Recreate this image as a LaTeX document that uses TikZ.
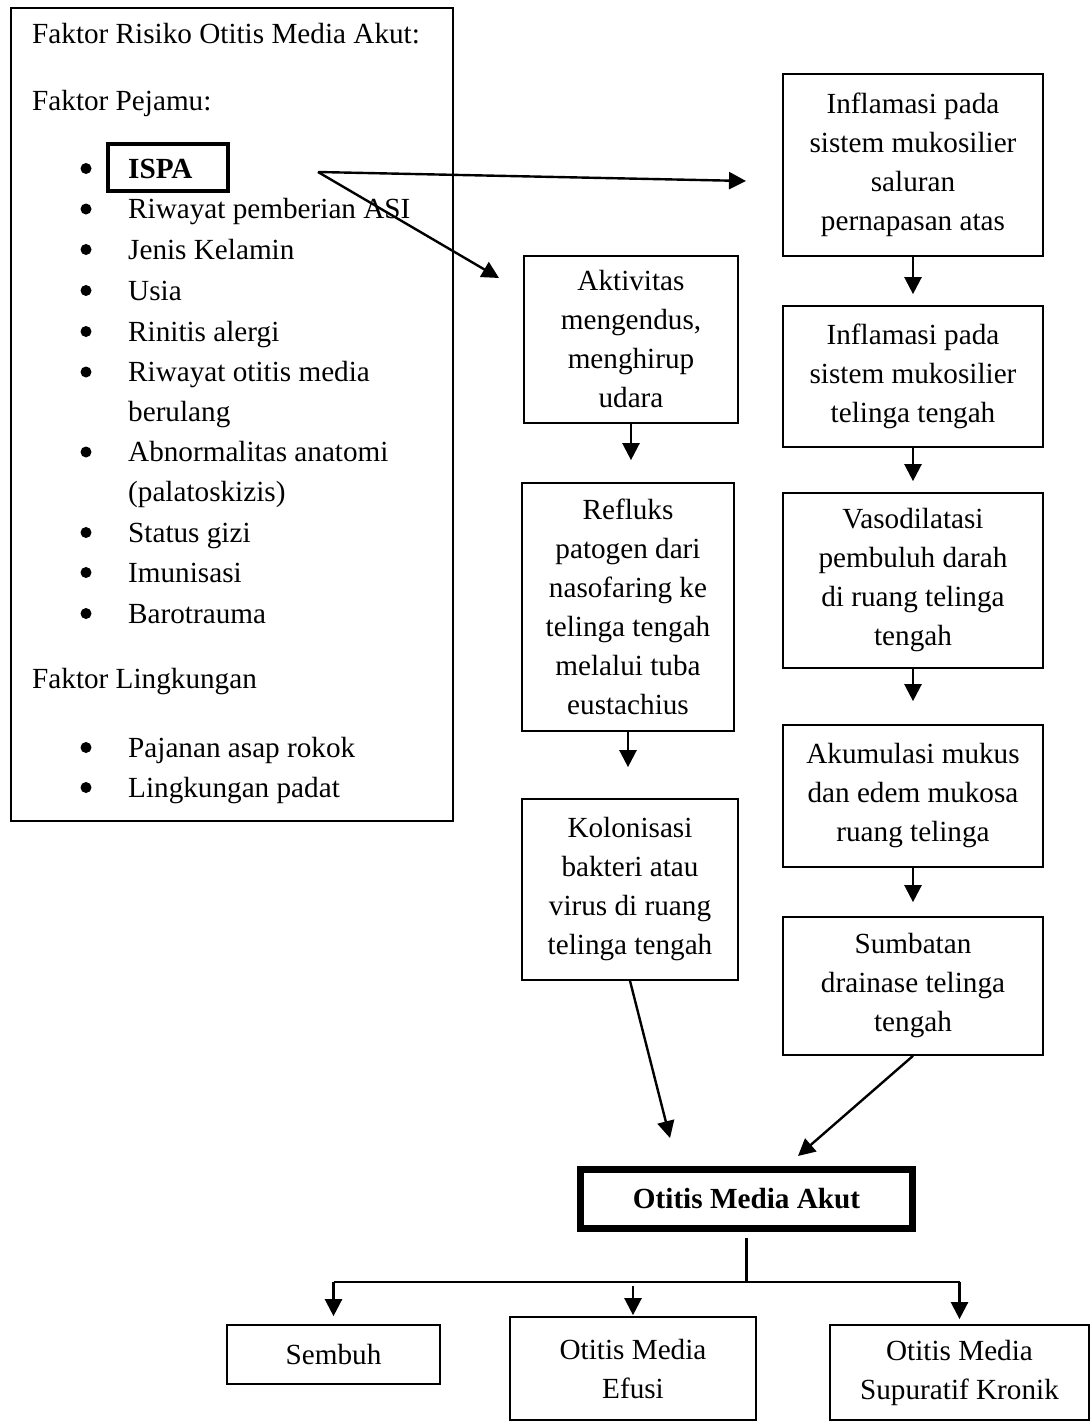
\documentclass[tikz,border=0pt]{standalone}
\usepackage{fontspec}
\setmainfont{Liberation Serif}
\usetikzlibrary{arrows.meta}
\begin{document}
\begin{tikzpicture}[x=1pt,y=-1pt,
  txt/.style={font=\fontsize{29.2}{39}\selectfont},
  box/.style={draw, line width=1.7pt, align=center, inner sep=0pt, txt},
  arr/.style={line width=2.4pt, -{Triangle[length=17pt,width=17pt]}},
  ln/.style={line width=2.4pt},
  lbl/.style={anchor=base west, inner sep=0pt, txt},
  dot/.style={fill, circle, minimum size=11pt, inner sep=0pt}]
\useasboundingbox (0,0) rectangle (1091,1421);

% left box of risk factors
\node[draw, line width=1.8pt, minimum width=442pt, minimum height=813pt, inner sep=0pt] (risk) at (232,414.5) {};
\node[lbl] (t0) at (32,44) {Faktor Risiko Otitis Media Akut:};
\node[lbl] (t1) at (32,110) {Faktor Pejamu:};
\node[draw, line width=4pt, minimum width=120pt, minimum height=47pt, inner sep=0pt] (ispa) at (168,167.5) {};
\node[lbl, font=\fontsize{29.2}{39}\selectfont\bfseries] (ispat) at (128,178) {ISPA};
\foreach \y/\t [count=\i] in {218.5/Riwayat pemberian ASI, 259/Jenis Kelamin, 300/Usia, 341/Rinitis alergi, 381.5/Riwayat otitis media, 421.5/berulang, 461.5/Abnormalitas anatomi, 501.5/(palatoskizis), 542/Status gizi, 582/Imunisasi, 623/Barotrauma}
  \node[lbl] (li\i) at (128,\y) {\t};
\foreach \y in {178,218.5,259,300,341,381.5,461.5,542,582,623,757,797}
  \node[dot] at (86,\y-9.5) {};
\node[lbl] (t2) at (32,688) {Faktor Lingkungan};
\node[lbl] (l1) at (128,757) {Pajanan asap rokok};
\node[lbl] (l2) at (128,797) {Lingkungan padat};

% right column
\node[box, minimum width=260pt, minimum height=182pt] (b1) at (913,165) {Inflamasi pada\\sistem mukosilier\\saluran\\pernapasan atas};
\node[box, minimum width=260pt, minimum height=141pt] (b2) at (913,376.5) {Inflamasi pada\\sistem mukosilier\\telinga tengah};
\node[box, minimum width=260pt, minimum height=175pt] (b3) at (913,580.5) {Vasodilatasi\\pembuluh darah\\di ruang telinga\\tengah};
\node[box, minimum width=260pt, minimum height=142pt] (b4) at (913,796) {Akumulasi mukus\\dan edem mukosa\\ruang telinga};
\node[box, minimum width=260pt, minimum height=138pt] (b5) at (913,986) {Sumbatan\\drainase telinga\\tengah};

% middle column
\node[box, minimum width=214pt, minimum height=167pt] (a1) at (631,339.5) {Aktivitas\\mengendus,\\menghirup\\udara};
\node[box, minimum width=212pt, minimum height=248pt] (a2) at (628,607) {Refluks\\patogen dari\\nasofaring ke\\telinga tengah\\melalui tuba\\eustachius};
\node[box, minimum width=216pt, minimum height=181pt] (a3) at (630,889.5) {Kolonisasi\\bakteri atau\\virus di ruang\\telinga tengah};

% outcome
\node[box, line width=7pt, minimum width=332pt, minimum height=59pt, font=\fontsize{29.2}{39}\selectfont\bfseries] (oma) at (746.5,1199) {Otitis Media Akut};
\node[box, minimum width=213pt, minimum height=59pt] (s1) at (333.5,1354.5) {Sembuh};
\node[box, minimum width=246pt, minimum height=103pt] (s2) at (633,1368.5) {Otitis Media\\Efusi};
\node[box, minimum width=259pt, minimum height=95pt] (s3) at (959.5,1372.5) {Otitis Media\\Supuratif Kronik};

% connectors from ISPA
\coordinate (src) at (318,172);
\coordinate (tipA) at (746,181);
\coordinate (tipB) at (499,278);
\draw[arr] (src) -- (tipA);
\draw[arr] (src) -- (tipB);

% right column arrows
\draw[arr, shorten >=11pt] (b1.south) -- (b2.north);
\draw[arr, shorten >=11pt] (b2.south) -- (b3.north);
\draw[arr, shorten >=23pt] (b3.south) -- (b4.north);
\draw[arr, shorten >=14pt] (b4.south) -- (b5.north);

% middle column arrows
\draw[arr, shorten >=22pt] (a1.south) -- (a1.south |- a2.north);
\draw[arr, shorten >=31pt] (a2.south) -- (a2.south |- a3.north);

% into OMA
\coordinate (tipK) at (670,1138);
\coordinate (tipS) at (798,1156);
\draw[arr] (a3.south) -- (tipK);
\draw[arr] (b5.south) -- (tipS);

% out of OMA
\coordinate (j) at (746.5,1282);
\draw[ln, shorten <=6pt] (oma.south) -- (j);
\draw[ln] (s1.north |- j) -- (s3.north |- j);
\draw[arr, shorten >=8pt] (s1.north |- j) -- (s1.north);
\draw[arr, shorten >=1pt] ([yshift=-4pt]s2.north |- j) -- (s2.north);
\draw[arr, shorten >=5pt] (s3.north |- j) -- (s3.north);
\end{tikzpicture}
\end{document}
